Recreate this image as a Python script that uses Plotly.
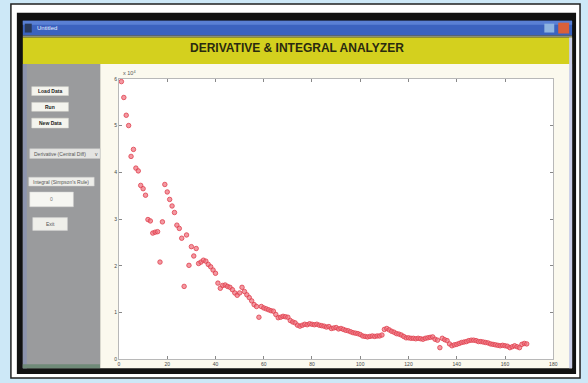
import plotly.graph_objects as go

# Sample index and measured response (values in units of 1e4)
sample = list(range(1, 170))
response = [
    5.94, 5.60, 5.22, 5.00, 4.34, 4.49, 4.09, 4.03, 3.72, 3.65,
    3.51, 2.99, 2.96, 2.70, 2.72, 2.73, 2.08, 2.94, 3.74, 3.58,
    3.42, 3.28, 3.14, 2.87, 2.80, 2.59, 1.56, 2.66, 2.01, 2.41,
    2.21, 2.37, 2.05, 2.08, 2.12, 2.10, 2.03, 1.98, 1.91, 1.84,
    1.63, 1.52, 1.58, 1.59, 1.56, 1.54, 1.49, 1.42, 1.37, 1.42,
    1.54, 1.45, 1.38, 1.32, 1.25, 1.17, 1.13, 0.90, 1.13, 1.10,
    1.08, 1.06, 1.04, 1.03, 0.96, 0.89, 0.90, 0.92, 0.91, 0.90,
    0.83, 0.80, 0.78, 0.73, 0.71, 0.73, 0.75, 0.74, 0.76, 0.75,
    0.74, 0.75, 0.73, 0.72, 0.71, 0.69, 0.70, 0.66, 0.67, 0.68,
    0.65, 0.66, 0.64, 0.62, 0.61, 0.59, 0.57, 0.56, 0.55, 0.53,
    0.50, 0.49, 0.48, 0.49, 0.50, 0.49, 0.50, 0.50, 0.52, 0.64,
    0.66, 0.63, 0.60, 0.58, 0.55, 0.54, 0.52, 0.49, 0.46, 0.46,
    0.45, 0.45, 0.44, 0.45, 0.44, 0.43, 0.45, 0.46, 0.47, 0.48,
    0.43, 0.41, 0.25, 0.45, 0.42, 0.40, 0.33, 0.29, 0.31, 0.32,
    0.34, 0.36, 0.37, 0.38, 0.40, 0.41, 0.41, 0.40, 0.38, 0.38,
    0.37, 0.36, 0.35, 0.33, 0.32, 0.31, 0.30, 0.29, 0.30, 0.29,
    0.28, 0.25, 0.27, 0.29, 0.27, 0.25, 0.32, 0.34, 0.33,
]

x_ticks = [0, 20, 40, 60, 80, 100, 120, 140, 160, 180]
y_ticks = [0, 1, 2, 3, 4, 5, 6]

app_title = "DERIVATIVE & INTEGRAL ANALYZER"
window_caption = "Untitled"
button_labels = ["Load Data", "Run", "New Data"]
menu_label = "Derivative (Central Diff)"
integral_label = "Integral (Simpson's Rule)"
edit_value = "0"
exit_label = "Exit"

W, H = 588, 383


def px(x):
    return x / W


def py(y):
    return 1 - y / H


def rect(x0, y0, x1, y1, fill, line=None, lw=0):
    return dict(type="rect", xref="paper", yref="paper",
                x0=px(x0), x1=px(x1), y0=py(y1), y1=py(y0),
                fillcolor=fill, layer="below",
                line=dict(color=line or fill, width=lw))


shapes = [
    # screen frame
    rect(10, 1, 584, 381, "#ffffff", "#202020", 1.5),
    rect(16, 10, 580, 377, "#111111"),
    # window title bar
    rect(22, 18, 576, 33, "#3c63bf"),
    rect(22, 18, 576, 22, "#5a80d4"),
    rect(24, 21, 31, 30, "#2a3a5a"),
    rect(548, 21, 558, 30, "#8fb4e0"),
    rect(562, 20, 573, 31, "#d9603a"),
    # yellow header
    rect(22, 33, 576, 35, "#8a8f7a"),
    rect(22, 35, 576, 62, "#d4d01e"),
    # control panel
    rect(22, 62, 100, 371, "#9a9b9d"),
    rect(22, 62, 26, 371, "#8c93ad"),
    rect(22, 367, 100, 371, "#6f8a78"),
    # figure area
    rect(100, 62, 576, 371, "#fbf9ee"),
    rect(573, 35, 576, 371, "#c9cde8"),
    rect(119, 77, 557, 362, "#ffffff"),
    # controls
    rect(31, 85, 68, 94, "#f4f4ee", "#d8d8d0", 0.5),
    rect(31, 101, 68, 110, "#f4f4ee", "#d8d8d0", 0.5),
    rect(31, 117, 68, 127, "#f4f4ee", "#d8d8d0", 0.5),
    rect(29, 148, 100, 158, "#e4e4e2", "#c8c8c8", 0.5),
    rect(28, 177, 94, 186, "#eeeeea", "#c8c8c8", 0.5),
    rect(29, 192, 73, 207, "#f6f6f2", "#d0d0d0", 0.5),
    rect(32, 218, 67, 231, "#efefea", "#d0d0d0", 0.5),
]

FONT = "Liberation Sans"
annotations = [
    dict(text=f"<b>{app_title}</b>", x=px(299), y=py(45.5),
         font=dict(family=FONT, size=12, color="#2a2a10")),
    dict(text=window_caption, x=px(34), y=py(25.5), xanchor="left",
         font=dict(family=FONT, size=6, color="#e8eeff")),
    dict(text="x 10<sup>4</sup>", x=px(121), y=py(71), xanchor="left",
         font=dict(family=FONT, size=5.5, color="#555555")),
]
for label, yc in zip(button_labels, [89.5, 105.5, 122]):
    annotations.append(dict(text=f"<b>{label}</b>", x=px(49.5), y=py(yc),
                            font=dict(family=FONT, size=5, color="#222222")))
annotations += [
    dict(text=menu_label, x=px(31), y=py(153), xanchor="left",
         font=dict(family=FONT, size=5, color="#555555")),
    dict(text="v", x=px(96), y=py(153),
         font=dict(family=FONT, size=5, color="#555555")),
    dict(text=integral_label, x=px(61), y=py(181.5),
         font=dict(family=FONT, size=5, color="#555555")),
    dict(text=edit_value, x=px(51), y=py(199.5),
         font=dict(family=FONT, size=5, color="#777777")),
    dict(text=exit_label, x=px(49.5), y=py(224.5),
         font=dict(family=FONT, size=5, color="#555555")),
]
for a in annotations:
    a.setdefault("xanchor", "center")
    a.update(xref="paper", yref="paper", yanchor="middle", showarrow=False)

fig = go.Figure(go.Scatter(
    x=sample, y=response, mode="markers",
    marker=dict(symbol="circle", size=4.5, color="rgba(238,110,122,0.7)",
                line=dict(color="#e0404e", width=0.8)),
))

axis_common = dict(showgrid=False, zeroline=False, showline=True, mirror="ticks",
                   linecolor="#b8b8b8", linewidth=1, ticks="inside", ticklen=3,
                   tickcolor="#888888",
                   tickfont=dict(family=FONT, size=5, color="#444444"))

fig.update_layout(
    width=W, height=H, margin=dict(l=0, r=0, t=0, b=0),
    paper_bgcolor="#cde8f7", plot_bgcolor="#ffffff",
    showlegend=False, shapes=shapes, annotations=annotations,
    xaxis=dict(domain=[px(119), px(557)], range=[0, 180],
               tickvals=x_ticks, **axis_common),
    yaxis=dict(domain=[py(362), py(77)], range=[0, 6],
               tickvals=y_ticks, **axis_common),
)

fig.write_html("out.html")
